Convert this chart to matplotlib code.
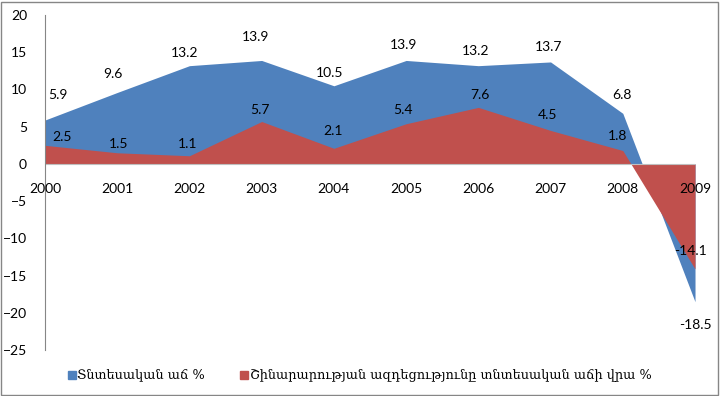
import numpy as np
import matplotlib.pyplot as plt
from matplotlib.patches import Rectangle

# Data
years = [2000, 2001, 2002, 2003, 2004, 2005, 2006, 2007, 2008, 2009]
growth = [5.9, 9.6, 13.2, 13.9, 10.5, 13.9, 13.2, 13.7, 6.8, -18.5]
construction = [2.5, 1.5, 1.1, 5.7, 2.1, 5.4, 7.6, 4.5, 1.8, -14.1]
growth_name = "Տնտեսական աճ %"
constr_name = "Շինարարության ազդեցությունը տնտեսական աճի վրա %"

# label offsets in pixels (dx, dy)
growth_off = [(13, 25), (-4, 18), (-5, 13), (-6, 23), (-4, 13),
              (-3, 15), (-3, 15), (-2, 15), (-1, 18), (0, -23)]
constr_off = [(17, 8), (1, 9), (-2, 12), (-2, 12), (-1, 17),
              (-3, 14), (2, 12), (-3, 15), (-5, 15), (-5, 18)]

blue = "#4F81BD"
red = "#C0504D"

fig = plt.figure(figsize=(7.2, 3.96), dpi=100)
ax = fig.add_axes([0.0625, 0.116, 0.9028, 0.846])

ax.fill_between(years, 0, growth, color=blue, linewidth=0)
ax.fill_between(years, 0, construction, color=red, linewidth=0)
ax.axhline(0, color="#BFBFBF", lw=0.8)

for x, y, (dx, dy) in zip(years, growth, growth_off):
    ax.annotate(f"{y}", (x, y), xytext=(dx, dy), textcoords="offset pixels",
                ha="center", va="center", fontsize=10, family="Lato")
for x, y, (dx, dy) in zip(years, construction, constr_off):
    ax.annotate(f"{y}", (x, y), xytext=(dx, dy), textcoords="offset pixels",
                ha="center", va="center", fontsize=10, family="Lato")

# year labels under the zero line
for x in years:
    ax.annotate(str(x), (x, 0), xytext=(0, -25), textcoords="offset pixels",
                ha="center", va="center", fontsize=10, family="Lato")

ax.set_xlim(2000, 2009)
ax.set_ylim(-25, 20)
ax.set_yticks(np.arange(-25, 21, 5))
ax.set_xticks([])
ax.tick_params(axis="y", length=0, pad=13, labelsize=10)
for lab in ax.get_yticklabels():
    lab.set_family("Lato")
for s in ["top", "right", "bottom"]:
    ax.spines[s].set_visible(False)
ax.spines["left"].set_color("#868686")
ax.spines["left"].set_linewidth(0.8)

# legend
fig.patches.append(Rectangle((0.094, 0.043), 0.011, 0.02, transform=fig.transFigure,
                             color=blue))
fig.text(0.107, 0.053, growth_name, fontsize=9.3, va="center",
         family=["DejaVu Serif", "DejaVu Sans"])
fig.patches.append(Rectangle((0.334, 0.043), 0.011, 0.02, transform=fig.transFigure,
                             color=red))
fig.text(0.347, 0.053, constr_name, fontsize=9.3, va="center",
         family=["DejaVu Serif", "DejaVu Sans"])

# outer frame
fig.patches.append(Rectangle((0.002, 0.003), 0.995, 0.993, transform=fig.transFigure,
                             fill=False, edgecolor="#868686", lw=1))

fig.savefig("out.png", dpi=100)
